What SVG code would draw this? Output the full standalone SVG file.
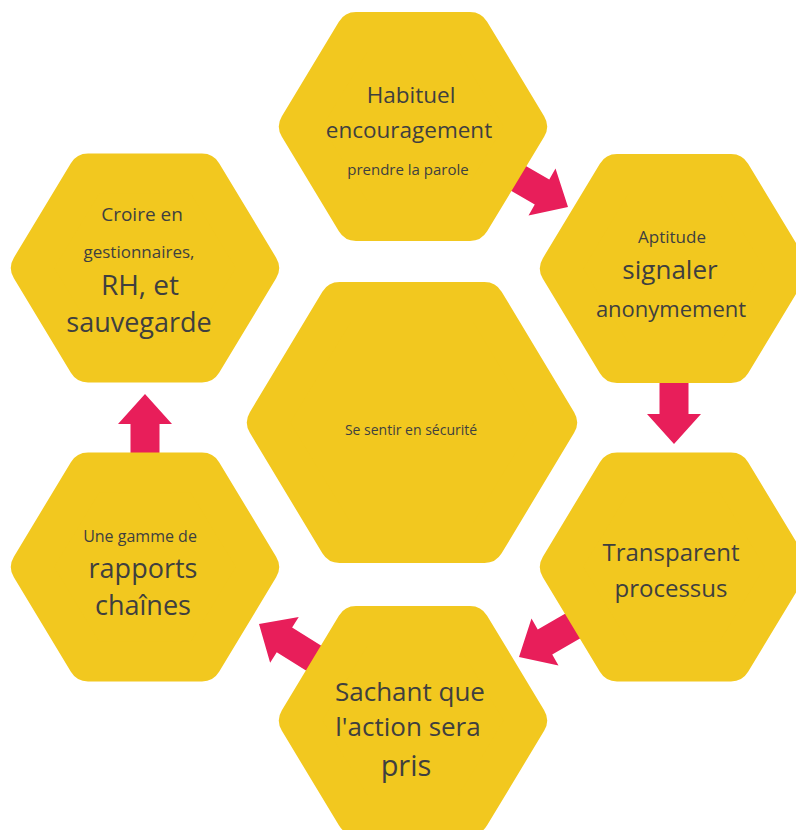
<svg xmlns="http://www.w3.org/2000/svg" width="796" height="830" viewBox="0 0 796 830">
<style>
.hex{fill:#F2C81F;stroke:#F2C81F;stroke-width:40;stroke-linejoin:round}
.arr{fill:#E81E5A}
text{font-family:"Open Sans","Noto Sans","DejaVu Sans",sans-serif;fill:#3f3f3f;text-anchor:middle}
</style>
<defs>
<path id="hs" d="M114,0 L57,94.5 L-57,94.5 L-114,0 L-57,-94.5 L57,-94.5 Z"/>
<path id="hl" d="M145,0 L72.5,120.5 L-72.5,120.5 L-145,0 L-72.5,-120.5 L72.5,-120.5 Z"/>
<path id="ar" d="M0,0 L-30,-27 L-30,-14.5 L-72,-14.5 L-72,14.5 L-30,14.5 L-30,27 Z"/>
</defs>
<rect width="796" height="830" fill="#fff"/>
<g id="connectors">
<use href="#ar" class="arr" transform="translate(568,207) rotate(30)"/>
<use href="#ar" class="arr" transform="translate(674,444) rotate(90)"/>
<use href="#ar" class="arr" transform="translate(519,657) rotate(150)"/>
<use href="#ar" class="arr" transform="translate(259,624) rotate(212)"/>
<use href="#ar" class="arr" transform="translate(145,394) rotate(-90)"/>
</g>
<g id="node-habituel">
<use href="#hs" class="hex" transform="translate(413,126.5)"/>
<text x="411" y="103" font-size="22.5">Habituel</text>
<text x="409" y="138" font-size="22.5">encouragement</text>
<text x="408" y="175" font-size="15">prendre la parole</text>
</g>
<g id="node-aptitude">
<use href="#hs" class="hex" transform="translate(674,268.5)"/>
<text x="672" y="243" font-size="17">Aptitude</text>
<text x="670" y="279" font-size="26">signaler</text>
<text x="671" y="317" font-size="22">anonymement</text>
</g>
<g id="node-croire">
<use href="#hs" class="hex" transform="translate(145,268)"/>
<text x="142" y="221" font-size="19">Croire en</text>
<text x="139" y="258" font-size="17">gestionnaires,</text>
<text x="140" y="295" font-size="28">RH, et</text>
<text x="139" y="332" font-size="27">sauvegarde</text>
</g>
<g id="node-centre">
<use href="#hl" class="hex" transform="translate(412,422.5)"/>
<text x="411" y="435" font-size="14">Se sentir en sécurité</text>
</g>
<g id="node-transparent">
<use href="#hs" class="hex" transform="translate(674,567)"/>
<text x="671" y="561" font-size="24">Transparent</text>
<text x="671" y="597" font-size="24">processus</text>
</g>
<g id="node-gamme">
<use href="#hs" class="hex" transform="translate(145,567)"/>
<text x="140" y="542" font-size="16">Une gamme de</text>
<text x="143" y="578" font-size="27">rapports</text>
<text x="143" y="615" font-size="27">chaînes</text>
</g>
<g id="node-sachant">
<use href="#hs" class="hex" transform="translate(413,720.5)"/>
<text x="410" y="701" font-size="26">Sachant que</text>
<text x="408" y="736" font-size="26">l'action sera</text>
<text x="406" y="776" font-size="29">pris</text>
</g>
</svg>
